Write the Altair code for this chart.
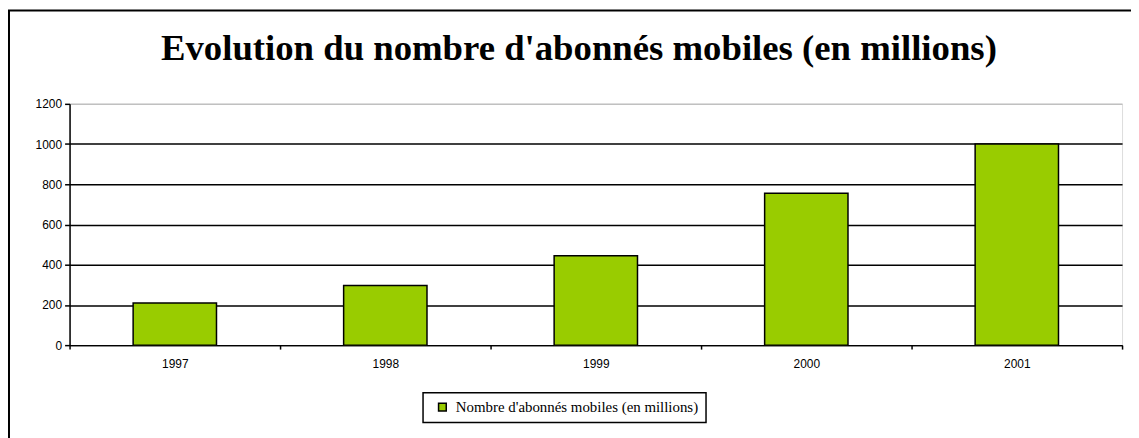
import altair as alt
import pandas as pd

# ---- data ----
years = ["1997", "1998", "1999", "2000", "2001"]
subscribers = [210, 297, 445, 755, 1000]
series_name = "Nombre d'abonnés mobiles (en millions)"
title_text = "Evolution du nombre d'abonnés mobiles (en millions)"
y_tick_values = [0, 200, 400, 600, 800, 1000, 1200]

df = pd.DataFrame({
    "year": years,
    "value": subscribers,
    "series": [series_name] * len(years),
})

bars = alt.Chart(df).mark_bar(
    stroke="black", strokeWidth=1.5, width=alt.RelativeBandSize(0.396)
).encode(
    x=alt.X(
        "year:O",
        scale=alt.Scale(paddingInner=0, paddingOuter=0),
        axis=alt.Axis(
            title=None, labelAngle=0, tickBand="extent",
            domainColor="black", domainWidth=1.5,
            tickColor="black", tickWidth=1.5, tickSize=4,
            labelFont="Liberation Sans", labelFontSize=12, labelColor="black",
            labelPadding=10, grid=False,
        ),
    ),
    y=alt.Y(
        "value:Q",
        scale=alt.Scale(domain=[0, 1200], nice=False),
        axis=alt.Axis(
            title=None, values=y_tick_values, format="d",
            domainColor="black", domainWidth=1.5,
            tickColor="black", tickWidth=1.5, tickSize=5,
            labelFont="Liberation Sans", labelFontSize=12, labelColor="black",
            labelPadding=3,
            grid=True, gridWidth=1.5,
            gridColor={"condition": {"test": "datum.value == 1200", "value": "#c0c0c0"}, "value": "black"},
        ),
    ),
    color=alt.Color(
        "series:N",
        scale=alt.Scale(range=["#99cc00"]),
        legend=alt.Legend(
            title=None, orient="none", legendX=356, legendY=291,
            direction="horizontal",
            strokeColor="black", fillColor="white",
            padding=7, symbolOffset=5,
            symbolType="square", symbolSize=60,
            symbolStrokeColor="black", symbolStrokeWidth=1.5,
            labelFont="Liberation Serif", labelFontSize=15, labelColor="black",
            labelOffset=6, labelLimit=600,
        ),
    ),
)

frame = alt.Chart(pd.DataFrame({"f": [0]})).mark_rect(
    fill=None, stroke="black", strokeWidth=2
).encode(
    x=alt.value(-61), x2=alt.value(1080),
    y=alt.value(-94), y2=alt.value(345),
)

chart = alt.layer(frame, bars).properties(
    width=1060,
    height=243,
    title=alt.TitleParams(
        title_text, font="Liberation Serif", fontSize=37, fontWeight="bold",
        color="black", anchor="middle", dx=-17, baseline="alphabetic", offset=-88,
    ),
    autosize=alt.AutoSizeParams(type="none"),
    padding={"left": 62, "top": 95, "right": 9, "bottom": 92},
).configure_view(stroke=None).configure(background="white").configure_legend(strokeWidth=1.5)

chart.save("out.html", embed_options={"renderer": "svg", "actions": False})
